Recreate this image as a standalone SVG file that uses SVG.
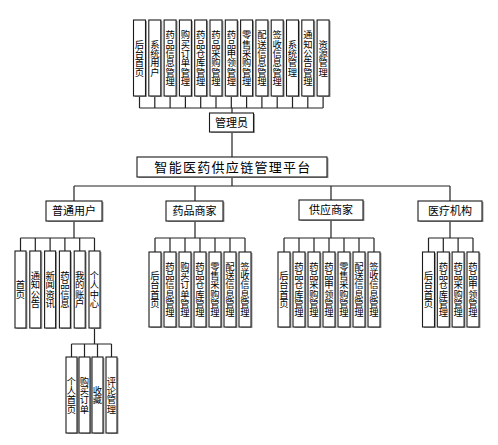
<svg xmlns="http://www.w3.org/2000/svg" width="498" height="445" viewBox="0 0 498 445">
<style>
.sh{fill:#a0a0a0}
.bx{fill:#fff;stroke:#1a1a1a;stroke-width:1.1}
.v{font-family:"Noto Sans CJK SC","Liberation Sans",sans-serif;font-size:9.3px;text-anchor:middle;fill:#000}
.h{font-family:"Noto Sans CJK SC","Liberation Sans",sans-serif;font-size:11px;text-anchor:middle;fill:#000}
.t{font-family:"Noto Sans CJK SC","Liberation Sans",sans-serif;font-size:13px;letter-spacing:1.3px;text-anchor:middle;fill:#000}
#conn path{fill:none;stroke:#222;stroke-width:1.2}
</style>
<rect width="498" height="445" fill="#fff"/>
<g id="conn">
<path d="M139.5 96V108M154.8 96V108M170.1 96V108M185.4 96V108M200.7 96V108M216 96V108M231.3 96V108M246.6 96V108M261.9 96V108M277.2 96V108M292.5 96V108M307.8 96V108M323.1 96V108M139.5 108H323.1M232 108V113"/>
<path d="M232 132V157M232 177V186M74 186H450M74 186V201M195 186V201M331 186V200M450 186V201"/>
<path d="M74 221V238M20.5 238H94.5M20.5 238V251M35.3 238V251M50.1 238V251M64.9 238V251M79.7 238V251M94.5 238V251"/>
<path d="M94.5 328V344M71.5 344H111.5M71.5 344V357M84.5 344V357M97.5 344V357M111.5 344V357"/>
<path d="M195 221V238M155 238H245M155 238V252M170 238V252M185 238V252M200 238V252M215 238V252M230 238V252M245 238V252"/>
<path d="M331 220V238M284 238H374M284 238V252M299 238V252M314 238V252M329 238V252M344 238V252M359 238V252M374 238V252"/>
<path d="M450 221V238M428.5 238H473M428.5 238V252M443.3 238V252M458.1 238V252M473 238V252"/>
</g>
<defs>
<g id="tb"><rect class="sh" x="-4.5" y="1" width="12" height="76"/><rect class="bx" x="-6" y="0" width="12" height="76"/></g>
<g id="cb"><rect class="sh" x="-4" y="1" width="11" height="77"/><rect class="bx" x="-5.5" y="0" width="11" height="77"/></g>
<g id="mb"><rect class="sh" x="-4.5" y="1" width="12" height="75"/><rect class="bx" x="-6" y="0" width="12" height="75"/></g>
<g id="pb"><rect class="sh" x="-4" y="1" width="11" height="76"/><rect class="bx" x="-5.5" y="0" width="11" height="76"/></g>
</defs>
<g id="admin-row">
<g id="a1"><use href="#tb" x="139.5" y="20"/><text class="v" x="139.5 139.5 139.5 139.5" y="47.6 56.9 66.2 75.5">后台首页</text></g>
<g id="a2"><use href="#tb" x="154.8" y="20"/><text class="v" x="154.8 154.8 154.8 154.8" y="47.6 56.9 66.2 75.5">系统用户</text></g>
<g id="a3"><use href="#tb" x="170.1" y="20"/><text class="v" x="170.1 170.1 170.1 170.1 170.1 170.1" y="38.3 47.6 56.9 66.2 75.5 84.8">药品信息管理</text></g>
<g id="a4"><use href="#tb" x="185.4" y="20"/><text class="v" x="185.4 185.4 185.4 185.4 185.4 185.4" y="38.3 47.6 56.9 66.2 75.5 84.8">购买订单管理</text></g>
<g id="a5"><use href="#tb" x="200.7" y="20"/><text class="v" x="200.7 200.7 200.7 200.7 200.7 200.7" y="38.3 47.6 56.9 66.2 75.5 84.8">药品仓库管理</text></g>
<g id="a6"><use href="#tb" x="216" y="20"/><text class="v" x="216 216 216 216 216 216" y="38.3 47.6 56.9 66.2 75.5 84.8">药品采购管理</text></g>
<g id="a7"><use href="#tb" x="231.3" y="20"/><text class="v" x="231.3 231.3 231.3 231.3 231.3 231.3" y="38.3 47.6 56.9 66.2 75.5 84.8">药品申领管理</text></g>
<g id="a8"><use href="#tb" x="246.6" y="20"/><text class="v" x="246.6 246.6 246.6 246.6 246.6 246.6" y="38.3 47.6 56.9 66.2 75.5 84.8">零售采购管理</text></g>
<g id="a9"><use href="#tb" x="261.9" y="20"/><text class="v" x="261.9 261.9 261.9 261.9 261.9 261.9" y="38.3 47.6 56.9 66.2 75.5 84.8">配送信息管理</text></g>
<g id="a10"><use href="#tb" x="277.2" y="20"/><text class="v" x="277.2 277.2 277.2 277.2 277.2 277.2" y="38.3 47.6 56.9 66.2 75.5 84.8">签收信息管理</text></g>
<g id="a11"><use href="#tb" x="292.5" y="20"/><text class="v" x="292.5 292.5 292.5 292.5" y="47.6 56.9 66.2 75.5">系统管理</text></g>
<g id="a12"><use href="#tb" x="307.8" y="20"/><text class="v" x="307.8 307.8 307.8 307.8 307.8 307.8" y="38.3 47.6 56.9 66.2 75.5 84.8">通知公告管理</text></g>
<g id="a13"><use href="#tb" x="323.1" y="20"/><text class="v" x="323.1 323.1 323.1 323.1" y="47.6 56.9 66.2 75.5">资源管理</text></g>
</g>
<g id="admin"><rect class="sh" x="211" y="114" width="44" height="19"/><rect class="bx" x="209.5" y="113" width="44" height="19"/><text class="h" x="231.5" y="127">管理员</text></g>
<g id="platform"><rect class="sh" x="138.5" y="158" width="190" height="20"/><rect class="bx" x="137" y="157" width="190" height="20"/><text class="t" x="233" y="172">智能医药供应链管理平台</text></g>
<g id="user"><rect class="sh" x="47.5" y="202" width="56" height="20"/><rect class="bx" x="46" y="201" width="56" height="20"/><text class="h" x="74" y="215">普通用户</text></g>
<g id="pharma"><rect class="sh" x="167.5" y="202" width="57" height="20"/><rect class="bx" x="166" y="201" width="57" height="20"/><text class="h" x="194.5" y="215">药品商家</text></g>
<g id="supplier"><rect class="sh" x="300.5" y="201" width="64" height="20"/><rect class="bx" x="299" y="200" width="64" height="20"/><text class="h" x="331" y="214">供应商家</text></g>
<g id="medical"><rect class="sh" x="419.5" y="202" width="64" height="20"/><rect class="bx" x="418" y="201" width="64" height="20"/><text class="h" x="450" y="215">医疗机构</text></g>
<g id="user-row">
<g id="u1"><use href="#cb" x="20.5" y="251"/><text class="v" x="20.5 20.5" y="288.4 297.7">首页</text></g>
<g id="u2"><use href="#cb" x="35.3" y="251"/><text class="v" x="35.3 35.3 35.3 35.3" y="279.1 288.4 297.7 307">通知公告</text></g>
<g id="u3"><use href="#cb" x="50.1" y="251"/><text class="v" x="50.1 50.1 50.1 50.1" y="279.1 288.4 297.7 307">新闻资讯</text></g>
<g id="u4"><use href="#cb" x="64.9" y="251"/><text class="v" x="64.9 64.9 64.9 64.9" y="279.1 288.4 297.7 307">药品信息</text></g>
<g id="u5"><use href="#cb" x="79.7" y="251"/><text class="v" x="79.7 79.7 79.7 79.7" y="279.1 288.4 297.7 307">我的账户</text></g>
<g id="u6"><use href="#cb" x="94.5" y="251"/><text class="v" x="94.5 94.5 94.5 94.5" y="279.1 288.4 297.7 307">个人中心</text></g>
</g>
<g id="personal-row">
<g id="p1"><use href="#pb" x="71.5" y="357"/><text class="v" x="71.5 71.5 71.5 71.5" y="384.6 393.9 403.2 412.5">个人首页</text></g>
<g id="p2"><use href="#pb" x="84.5" y="357"/><text class="v" x="84.5 84.5 84.5 84.5" y="384.6 393.9 403.2 412.5">购买订单</text></g>
<g id="p3"><use href="#pb" x="97.5" y="357"/><text class="v" x="97.5 97.5" y="393.9 403.2">收藏</text></g>
<g id="p4"><use href="#pb" x="111.5" y="357"/><text class="v" x="111.5 111.5 111.5 111.5" y="384.6 393.9 403.2 412.5">评论管理</text></g>
</g>
<g id="pharma-row">
<g id="d1"><use href="#mb" x="155" y="252"/><text class="v" x="155 155 155 155" y="279.1 288.4 297.7 307">后台首页</text></g>
<g id="d2"><use href="#mb" x="170" y="252"/><text class="v" x="170 170 170 170 170 170" y="269.8 279.1 288.4 297.7 307 316.3">药品信息管理</text></g>
<g id="d3"><use href="#mb" x="185" y="252"/><text class="v" x="185 185 185 185 185 185" y="269.8 279.1 288.4 297.7 307 316.3">购买订单管理</text></g>
<g id="d4"><use href="#mb" x="200" y="252"/><text class="v" x="200 200 200 200 200 200" y="269.8 279.1 288.4 297.7 307 316.3">药品仓库管理</text></g>
<g id="d5"><use href="#mb" x="215" y="252"/><text class="v" x="215 215 215 215 215 215" y="269.8 279.1 288.4 297.7 307 316.3">零售采购管理</text></g>
<g id="d6"><use href="#mb" x="230" y="252"/><text class="v" x="230 230 230 230 230 230" y="269.8 279.1 288.4 297.7 307 316.3">配送信息管理</text></g>
<g id="d7"><use href="#mb" x="245" y="252"/><text class="v" x="245 245 245 245 245 245" y="269.8 279.1 288.4 297.7 307 316.3">签收信息管理</text></g>
</g>
<g id="supplier-row">
<g id="s1"><use href="#mb" x="284" y="252"/><text class="v" x="284 284 284 284" y="279.1 288.4 297.7 307">后台首页</text></g>
<g id="s2"><use href="#mb" x="299" y="252"/><text class="v" x="299 299 299 299 299 299" y="269.8 279.1 288.4 297.7 307 316.3">药品仓库管理</text></g>
<g id="s3"><use href="#mb" x="314" y="252"/><text class="v" x="314 314 314 314 314 314" y="269.8 279.1 288.4 297.7 307 316.3">药品采购管理</text></g>
<g id="s4"><use href="#mb" x="329" y="252"/><text class="v" x="329 329 329 329 329 329" y="269.8 279.1 288.4 297.7 307 316.3">药品申领管理</text></g>
<g id="s5"><use href="#mb" x="344" y="252"/><text class="v" x="344 344 344 344 344 344" y="269.8 279.1 288.4 297.7 307 316.3">零售采购管理</text></g>
<g id="s6"><use href="#mb" x="359" y="252"/><text class="v" x="359 359 359 359 359 359" y="269.8 279.1 288.4 297.7 307 316.3">配送信息管理</text></g>
<g id="s7"><use href="#mb" x="374" y="252"/><text class="v" x="374 374 374 374 374 374" y="269.8 279.1 288.4 297.7 307 316.3">签收信息管理</text></g>
</g>
<g id="medical-row">
<g id="m1"><use href="#mb" x="428.5" y="252"/><text class="v" x="428.5 428.5 428.5 428.5" y="279.1 288.4 297.7 307">后台首页</text></g>
<g id="m2"><use href="#mb" x="443.3" y="252"/><text class="v" x="443.3 443.3 443.3 443.3 443.3 443.3" y="269.8 279.1 288.4 297.7 307 316.3">药品仓库管理</text></g>
<g id="m3"><use href="#mb" x="458.1" y="252"/><text class="v" x="458.1 458.1 458.1 458.1 458.1 458.1" y="269.8 279.1 288.4 297.7 307 316.3">药品采购管理</text></g>
<g id="m4"><use href="#mb" x="473" y="252"/><text class="v" x="473 473 473 473 473 473" y="269.8 279.1 288.4 297.7 307 316.3">药品申领管理</text></g>
</g>
</svg>
